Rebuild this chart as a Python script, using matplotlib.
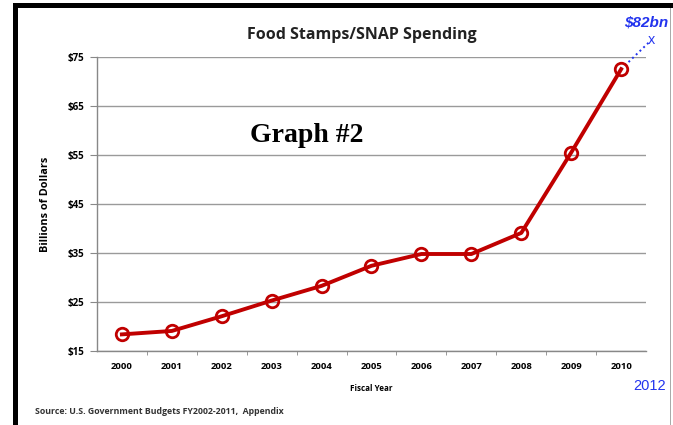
import matplotlib
matplotlib.use('Agg')
import matplotlib.pyplot as plt
from matplotlib.patches import Rectangle

# ── Data ──────────────────────────────────────────────────────────────
years = ['2000', '2001', '2002', '2003', '2004', '2005',
         '2006', '2007', '2008', '2009', '2010']
spending = [18.4, 19.1, 22.1, 25.3, 28.3, 32.4, 34.8, 34.8, 39.1, 55.5, 72.5]
yticks = [15, 25, 35, 45, 55, 65, 75]
proj_x = 10.6          # category position of the 2012 projection mark
proj_val = 78.4        # where the "x" sits on the dollar scale

C_RED = '#c00000'
C_BLUE = '#2233ee'
FONT = ['Open Sans', 'DejaVu Sans']

fig = plt.figure(figsize=(6.73, 4.25), dpi=100)
ax = fig.add_axes([0.144, 0.174, 0.816, 0.692])

x = list(range(len(years)))
ax.plot(x, spending, color=C_RED, lw=2.8, marker='o', ms=9,
        mfc='none', mec=C_RED, mew=2, zorder=3)

# dotted projection to 2012
ax.plot([x[-1], proj_x], [spending[-1], proj_val], color=C_BLUE,
        ls=':', lw=1.4, clip_on=False, zorder=2)
ax.text(proj_x, proj_val, 'x', color=C_BLUE, fontsize=10,
        ha='center', va='center', family=FONT, clip_on=False)

ax.set_xlim(-0.5, len(years) - 0.5)
ax.set_ylim(15, 75)
ax.set_yticks(yticks)
ax.set_yticklabels([f'${v}' for v in yticks], fontsize=7,
                   fontweight='bold', family=FONT)
ax.set_xticks(x)
ax.set_xticklabels(years, fontsize=6.8, fontweight='bold', family=FONT)
ax.set_xticks([i + 0.5 for i in x[:-1]], minor=True)
ax.tick_params(axis='x', which='major', length=0, pad=8)
ax.tick_params(axis='x', which='minor', length=3, color='#888888')
ax.tick_params(axis='y', length=5, color='#888888', pad=4)
ax.grid(axis='y', color='#9a9a9a', lw=1)
ax.set_axisbelow(True)
for side in ['top', 'right']:
    ax.spines[side].set_visible(False)
for side in ['left', 'bottom']:
    ax.spines[side].set_color('#888888')
    ax.spines[side].set_linewidth(1)

ax.set_ylabel('Billions of Dollars', fontsize=7.8, fontweight='bold',
              family=FONT, labelpad=12)
ax.set_xlabel('Fiscal Year', fontsize=5.8, fontweight='bold',
              family=FONT, labelpad=9)

fig.text(0.538, 0.918, 'Food Stamps/SNAP Spending', ha='center', va='center',
         fontsize=11.5, fontweight='bold', family=FONT, color='#222222')
fig.text(0.456, 0.682, 'Graph #2', ha='center', va='center',
         fontsize=20, fontweight='bold', family='Liberation Serif')
fig.text(0.960, 0.948, '$82bn', ha='center', va='center', fontsize=11,
         fontweight='bold', style='italic', color=C_BLUE,
         family='Liberation Sans')
fig.text(0.990, 0.092, '2012', ha='right', va='center', fontsize=10.5,
         color=C_BLUE, family='Liberation Sans')
fig.text(0.052, 0.031, 'Source: U.S. Government Budgets FY2002-2011,  Appendix',
         ha='left', va='center', fontsize=6.3, fontweight='bold',
         family=FONT, color='#333333')

# black frame on the top and left edges, thin gray on the right
fig.add_artist(Rectangle((13 / 673, 0), 5 / 673, 1 - 3 / 425,
                         transform=fig.transFigure, color='black', lw=0))
fig.add_artist(Rectangle((13 / 673, 1 - 8 / 425), 1 - 13 / 673, 5 / 425,
                         transform=fig.transFigure, color='black', lw=0))
fig.add_artist(Rectangle((670 / 673, 0), 1 / 673, 1 - 8 / 425,
                         transform=fig.transFigure, color='#aaaaaa', lw=0))

fig.savefig('out.png', dpi=100)
